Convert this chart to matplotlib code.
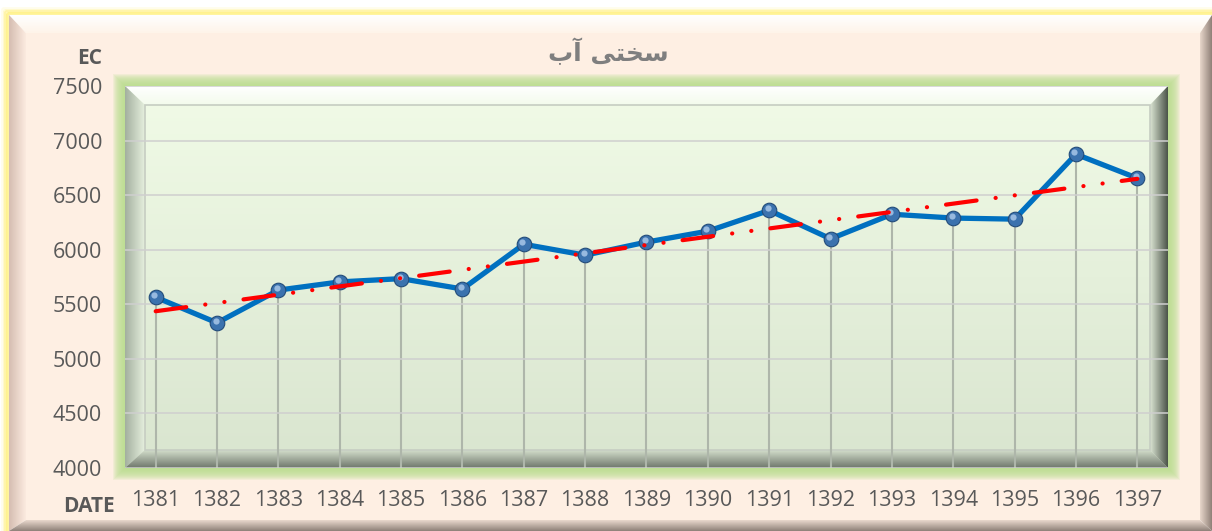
import numpy as np
import matplotlib
matplotlib.use('Agg')
import matplotlib.pyplot as plt
from matplotlib.patches import Polygon, Rectangle
from matplotlib.colors import LinearSegmentedColormap
from matplotlib.transforms import offset_copy

plt.rcParams['lines.scale_dashes'] = False

# data
years = ['1381', '1382', '1383', '1384', '1385', '1386', '1387', '1388', '1389',
         '1390', '1391', '1392', '1393', '1394', '1395', '1396', '1397']
ec = [5565, 5330, 5630, 5705, 5735, 5640, 6050, 5950, 6070,
      6170, 6360, 6100, 6325, 6290, 6280, 6875, 6655]
yticks = [4000, 4500, 5000, 5500, 6000, 6500, 7000, 7500]
title = '\ufe8f\ufe81 \ufbfd\ufe98\ufea8\ufeb3'   # "سختی آب" shaped for display

W, H = 1212, 531
fig = plt.figure(figsize=(W / 100, H / 100), dpi=100)
fig.patch.set_facecolor('white')

# background layer in pixel coordinates (y down)
bg = fig.add_axes([0, 0, 1, 1], zorder=0)
bg.axis('off')


def grad_poly(verts, c0, c1, horizontal=False, z=1):
    poly = Polygon(verts, closed=True, facecolor='none', edgecolor='none')
    bg.add_patch(poly)
    xs = [v[0] for v in verts]
    ys = [v[1] for v in verts]
    cmap = LinearSegmentedColormap.from_list('g', [c0, c1])
    g = np.linspace(0, 1, 256)
    g = g[None, :] if horizontal else g[:, None]
    im = bg.imshow(g, cmap=cmap, extent=(min(xs), max(xs), max(ys), min(ys)),
                   aspect='auto', origin='upper', zorder=z, interpolation='bilinear')
    im.set_clip_path(poly)


# yellow outer glow
for i, a in enumerate([0.15, 0.3, 0.5, 0.8]):
    bg.add_patch(Rectangle((8 - (4 - i) * 1.5, 14 - (4 - i) * 1.5), 1212, 600,
                           facecolor='none', edgecolor='#FFF07A', lw=2, alpha=a, zorder=0.5))

# outer panel with bevel
L, T, R, B = 9, 15, 1212, 531
l, t, r, b = 26, 33, 1200, 520
bg.add_patch(Rectangle((l, t), r - l, b - t, facecolor='#FEEFE3', edgecolor='none', zorder=1))
grad_poly([(L, T), (R, T), (r, t), (l, t)], '#FFFFFF', '#FEF4E9', z=1)
grad_poly([(L, T), (l, t), (l, b), (L, B)], '#D5BDB1', '#FCEBE0', horizontal=True, z=1)
grad_poly([(L, B), (R, B), (r, b), (l, b)], '#EAD9CE', '#8E8078', z=1)
grad_poly([(R, T), (R, B), (r, b), (r, t)], '#E8D7CB', '#8F8077', horizontal=True, z=1)

# plot area frame (green glow + bevel)
PL, PT, PR, PB = 125, 86, 1168, 468
pl, pt, pr, pb = 145, 105, 1150, 450
for i in range(12):
    d = 12 - i
    bg.add_patch(Rectangle((PL - d, PT - d), PR - PL + 2 * d, PB - PT + 2 * d,
                           facecolor='#B9DE8C', edgecolor='none', alpha=0.16, zorder=2))
grad_poly([(PL, PT), (PR, PT), (PR, PB), (PL, PB)], '#F1FBE7', '#D9E5CF', z=3)
grad_poly([(PL, PT), (PR, PT), (pr, pt), (pl, pt)], '#FFFFFF', '#F3FBEC', z=3)
grad_poly([(PL, PT), (pl, pt), (pl, pb), (PL, PB)], '#A3AF9F', '#E6F0DE', horizontal=True, z=3)
grad_poly([(PL, PB), (PR, PB), (pr, pb), (pl, pb)], '#D3DECB', '#6E766B', z=3)
grad_poly([(PR, PT), (PR, PB), (pr, pb), (pr, pt)], '#DCE6D4', '#4A5348', horizontal=True, z=3)
bg.add_patch(Rectangle((pl, pt), pr - pl, pb - pt, facecolor='none',
                       edgecolor='#C6CDC2', lw=1.2, zorder=3.5))

txt = '#595959'
bg.text(608, 52, title, ha='center', va='center', fontsize=18, fontweight='bold',
        color='#7F7F7F', family=['DejaVu Sans'], zorder=5)
bg.text(102, 59, 'EC', ha='right', va='center', fontsize=15, fontweight='bold',
        color=txt, family='Open Sans', zorder=5)
bg.text(115, 507, 'DATE', ha='right', va='center', fontsize=15, fontweight='bold',
        color=txt, family='Open Sans', zorder=5)
bg.set_xlim(0, W)
bg.set_ylim(H, 0)

# main chart
ax = fig.add_axes([PL / W, (H - PB) / H, (PR - PL) / W, (PB - PT) / H], zorder=2)
ax.patch.set_alpha(0)
x = np.arange(len(years))
y = np.array(ec)

ax.set_yticks(yticks)
ax.grid(axis='y', color='#CFCFCF', lw=1.1, zorder=0)
ax.vlines(x, yticks[0], y, color='#AEB6AA', lw=1.5, zorder=1)
ax.plot(x, y, color='#0070C0', lw=3.8, zorder=3, solid_capstyle='round')
ax.plot(x, y, 'o', ms=10.5, mfc='#3B72AE', mec='#234C7A', mew=0.8, zorder=4)
hl = offset_copy(ax.transData, fig=fig, x=-1.5, y=2, units='dots')
ax.plot(x, y, 'o', ms=4.5, mfc='#A8C6E8', mec='none', alpha=0.85, zorder=4, transform=hl)

# linear trend line
k, c = np.polyfit(x, y, 1)
ax.plot(x, k * x + c, color='#FF0000', lw=3, zorder=5,
        dashes=(22.2, 13.8, 0.1, 13.8, 0.1, 13.8), dash_capstyle='round')

ax.set_xlim(-0.5, len(years) - 0.5)
ax.set_ylim(yticks[0], yticks[-1])
ax.set_xticks(x)
ax.set_xticklabels(years)
ax.tick_params(length=0, labelsize=15.5, labelcolor=txt)
ax.tick_params(axis='y', pad=16.5)
ax.tick_params(axis='x', pad=16)
for lab in ax.get_xticklabels() + ax.get_yticklabels():
    lab.set_family('Open Sans')
for s in ax.spines.values():
    s.set_visible(False)

fig.savefig('out.png', dpi=100)
